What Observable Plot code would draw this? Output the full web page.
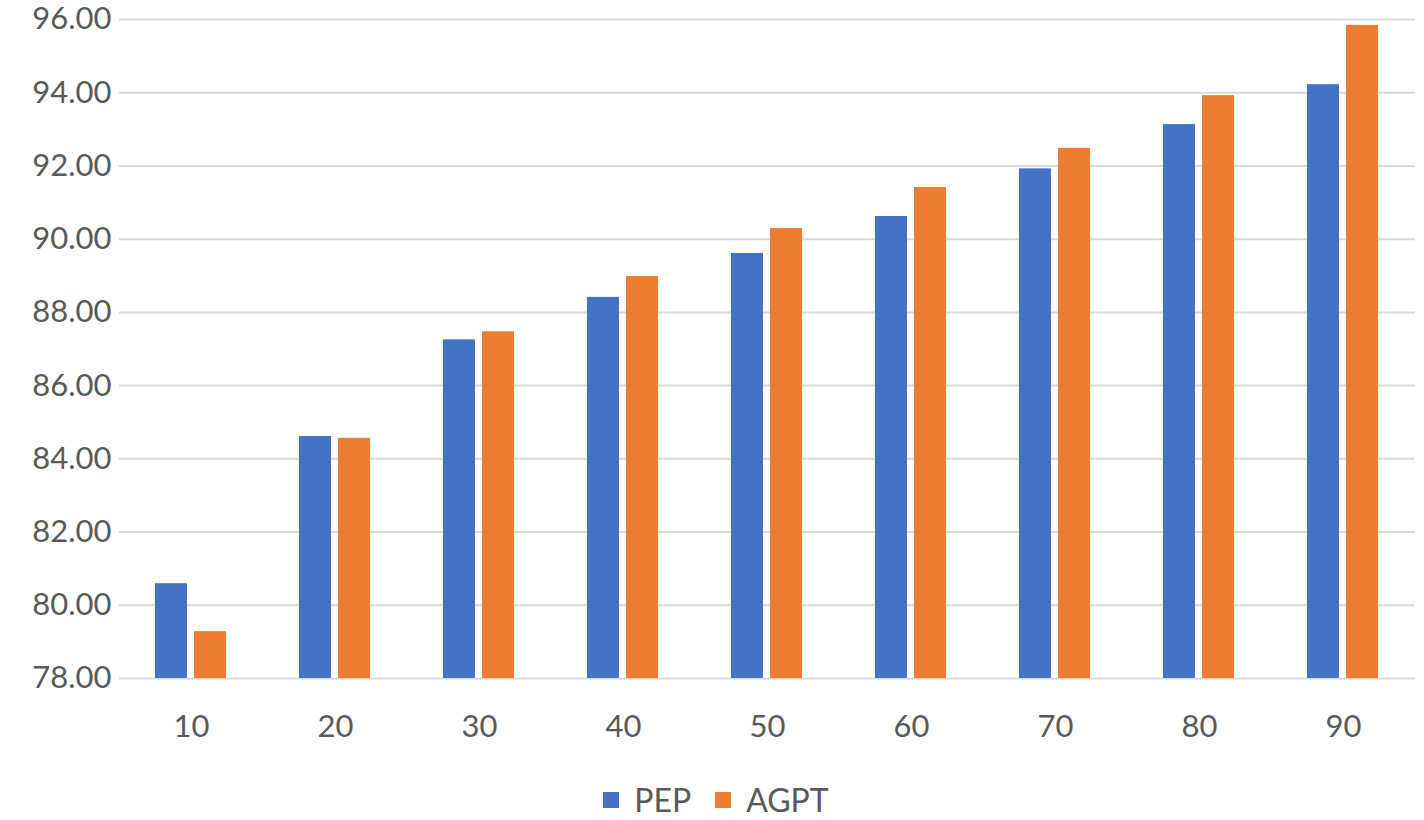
<!DOCTYPE html>
<html>
<head>
<meta charset="utf-8">
<script src="https://cdn.jsdelivr.net/npm/d3@7"></script>
<script src="https://cdn.jsdelivr.net/npm/@observablehq/plot@0.6"></script>
<style>
  html, body { margin: 0; padding: 0; background: #fff; }
  #chart { width: 1424px; }
  #chart svg { overflow: visible; display: block; }
  .legend { display: flex; justify-content: center; align-items: center; font-family: Lato, "Open Sans", sans-serif; font-size: 32px; line-height: 36px; color: #595959; height: 38px; margin-top: 11px; padding-left: 8px; }
  .legend .item { display: flex; align-items: center; margin: 0 12px; }
  .legend .sw { width: 16px; height: 16px; margin-right: 15px; display: inline-block; }
</style>
</head>
<body>
<div id="chart"></div>
<script>
const categories = ["10", "20", "30", "40", "50", "60", "70", "80", "90"];
const seriesNames = ["PEP", "AGPT"];
const pepValues  = [80.59, 84.61, 87.25, 88.41, 89.61, 90.62, 91.92, 93.13, 94.22];
const agptValues = [79.28, 84.56, 87.47, 88.98, 90.29, 91.41, 92.48, 93.92, 95.84];
const yTicks = [78, 80, 82, 84, 86, 88, 90, 92, 94, 96];
const colors = ["#4472C4", "#ED7D31"];
const yMin = 78, yMax = 96;

const data = [];
categories.forEach((c, i) => {
  data.push({cat: c, series: "PEP", value: pepValues[i]});
  data.push({cat: c, series: "AGPT", value: agptValues[i]});
});

const fontFamily = "Lato, 'Open Sans', sans-serif";

const plot = Plot.plot({
  width: 1424,
  height: 770,
  marginTop: 19,
  marginBottom: 92,
  marginLeft: 116,
  marginRight: 6,
  style: {fontFamily, background: "#fff"},
  fx: {domain: categories, padding: 0, label: null},
  x: {domain: seriesNames, paddingInner: 0.175, paddingOuter: 0.89, axis: null},
  y: {domain: [yMin, yMax], label: null},
  color: {domain: seriesNames, range: colors},
  marks: [
    Plot.ruleY(yTicks, {y: d => d, stroke: "#d9d9d9", strokeWidth: 2}),
    Plot.barY(data, {fx: "cat", x: "series", y1: yMin, y2: "value", fill: "series"}),
    Plot.axisY(yTicks, {tickSize: 0, tickPadding: 8, tickFormat: d3.format(".2f"), fontSize: 31, fill: "#595959", label: null}),
    Plot.axisFx({anchor: "bottom", tickSize: 0, tickPadding: 36, fontSize: 31, fill: "#595959", label: null})
  ]
});
document.getElementById("chart").appendChild(plot);

const legend = document.createElement("div");
legend.className = "legend";
seriesNames.forEach((s, i) => {
  const item = document.createElement("span");
  item.className = "item";
  const sw = document.createElement("span");
  sw.className = "sw";
  sw.style.background = colors[i];
  item.appendChild(sw);
  item.appendChild(document.createTextNode(s));
  legend.appendChild(item);
});
document.getElementById("chart").appendChild(legend);
</script>
</body>
</html>
